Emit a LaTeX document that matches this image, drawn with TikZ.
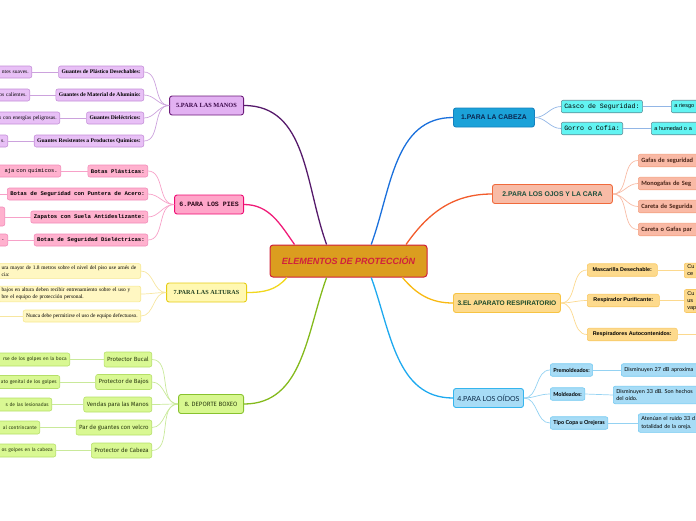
\documentclass[tikz,border=0pt]{standalone}
\usepackage{fontspec}
\setmainfont{Liberation Serif}
\setsansfont{Liberation Sans}
\setmonofont{Liberation Mono}
\newfontfamily\carlitofont{Carlito}
\newfontfamily\latofont{Lato}
\newfontfamily\firafont{Fira Sans}
\newcommand\fsz[2]{\fontsize{#1}{#2}\selectfont}
\definecolor{rootfill}{HTML}{DB9D1F}
\definecolor{rootline}{HTML}{CF1F3A}
\definecolor{roottext}{HTML}{D0213C}
\definecolor{cabline}{HTML}{1A70DC}
\definecolor{cabfill}{HTML}{1BA2D9}
\definecolor{cabdraw}{HTML}{1582BF}
\definecolor{cabtext}{HTML}{0B2650}
\definecolor{cabsubfill}{HTML}{62F4F2}
\definecolor{cabsubdraw}{HTML}{5C8E98}
\definecolor{cabtwig}{HTML}{92B6E6}
\definecolor{ojoline}{HTML}{F25C2C}
\definecolor{ojofill}{HTML}{F8BBA6}
\definecolor{ojodraw}{HTML}{F06A3C}
\definecolor{ojotext}{HTML}{1C4F3C}
\definecolor{ojosubfill}{HTML}{F9B9A5}
\definecolor{ojosubdraw}{HTML}{F4A283}
\definecolor{ojosubtext}{HTML}{4A2518}
\definecolor{ojotwig}{HTML}{F8BCA6}
\definecolor{respline}{HTML}{F8B912}
\definecolor{respfill}{HTML}{FDDA8D}
\definecolor{respdraw}{HTML}{F7C443}
\definecolor{resptext}{HTML}{1C4A2A}
\definecolor{respsubdraw}{HTML}{F8C862}
\definecolor{resptwig}{HTML}{FCD98E}
\definecolor{oidline}{HTML}{1EA9EF}
\definecolor{oidfill}{HTML}{A7DCF6}
\definecolor{oiddraw}{HTML}{35B5EE}
\definecolor{oidtext}{HTML}{0A2A48}
\definecolor{oidsubdraw}{HTML}{72C9F1}
\definecolor{oidtwig}{HTML}{94D2F2}
\definecolor{manline}{HTML}{561A6B}
\definecolor{manfill}{HTML}{E2B1F2}
\definecolor{mandraw}{HTML}{6C1C7A}
\definecolor{mantext}{HTML}{3A0848}
\definecolor{mansubfill}{HTML}{E8C0F6}
\definecolor{mansubdraw}{HTML}{C48ED8}
\definecolor{mantwig}{HTML}{CCA2DD}
\definecolor{pieline}{HTML}{EF1C78}
\definecolor{piefill}{HTML}{FFA5C9}
\definecolor{piedraw}{HTML}{EE0A72}
\definecolor{pietext}{HTML}{2A0818}
\definecolor{piesubfill}{HTML}{FFB1CE}
\definecolor{piesubdraw}{HTML}{F28AB8}
\definecolor{pietwig}{HTML}{F7A1C8}
\definecolor{altline}{HTML}{F1D71E}
\definecolor{altfill}{HTML}{FFF8B2}
\definecolor{altdraw}{HTML}{E6CC14}
\definecolor{alttext}{HTML}{204020}
\definecolor{altsubfill}{HTML}{FFF7C2}
\definecolor{altsubdraw}{HTML}{F6E78E}
\definecolor{alttwig}{HTML}{F7E6A0}
\definecolor{boxline}{HTML}{84BA1C}
\definecolor{boxfill}{HTML}{D7F78F}
\definecolor{boxdraw}{HTML}{88C22E}
\definecolor{boxtext}{HTML}{2A3A10}
\definecolor{boxsubfill}{HTML}{D9F893}
\definecolor{boxsubdraw}{HTML}{B5DF68}
\definecolor{boxtwig}{HTML}{C9E99A}
\begin{document}
\begin{tikzpicture}[x=1pt,y=1pt,
        root/.style={draw=rootline, fill=rootfill, line width=1pt, rounded corners=3pt,
          minimum width=157pt, minimum height=32pt, inner sep=0pt, text=roottext,
          font=\sffamily\bfseries\itshape\fsz{9}{10}},
        topic/.style={draw=#1, line width=0.9pt, rounded corners=2.5pt,
          minimum height=19pt, inner xsep=4pt, inner ysep=0pt},
        item/.style={draw=#1, line width=0.55pt, rounded corners=2pt,
          minimum height=12.5pt, inner xsep=3pt, inner ysep=0pt},
        cutl/.style={anchor=east, text width=#1, align=right},
        cutr/.style={anchor=west, text width=#1, align=left},
        link/.style={draw=#1, line width=1.3pt},
        twig/.style={draw=#1, line width=0.7pt}]
        \useasboundingbox (0,0) rectangle (696,-520);
        \clip (0,0) rectangle (696,-520);
        \node[root] (root) at (348.5,-261) {ELEMENTOS DE PROTECCIÓN};
        % 1 cabeza
        \node[topic=cabdraw, fill=cabfill, text=cabtext, anchor=west, minimum width=81pt,
          font=\sffamily\bfseries\fsz{6.8}{8}] (cabeza) at (453,-117.5) {1.PARA LA CABEZA};
        \node[item=cabsubdraw, fill=cabsubfill, anchor=west, font=\ttfamily\fsz{6.6}{8}] (casco) at (561,-106.5) {Casco de Seguridad:};
        \node[item=cabsubdraw, fill=cabsubfill, anchor=west, font=\ttfamily\fsz{6.6}{8}] (gorro) at (561,-128.5) {Gorro o Cofia:};
        \node[item=cabsubdraw, fill=cabsubfill, cutr=50pt, font=\sffamily\fsz{5.5}{7}] (cascoleaf) at (671,-106.5) {a riesgo};
        \node[item=cabsubdraw, fill=cabsubfill, cutr=70pt, font=\sffamily\fsz{5.5}{7}] (gorroleaf) at (651,-128.5) {a humedad o a};
        % 2 ojos
        \node[topic=ojodraw, fill=ojofill, text=ojotext, anchor=west, minimum width=120pt,
          font=\sffamily\bfseries\fsz{6.8}{8}] (ojos) at (492,-194) {2.PARA LOS OJOS Y LA CARA};
        \node[item=ojosubdraw, fill=ojosubfill, text=ojosubtext, cutr=70pt, font=\carlitofont\bfseries\fsz{6.4}{7}] (gafas) at (638,-160.5) {Gafas de seguridad};
        \node[item=ojosubdraw, fill=ojosubfill, text=ojosubtext, cutr=70pt, font=\carlitofont\bfseries\fsz{6.4}{7}] (monogafas) at (638,-183.5) {Monogafas de Seg};
        \node[item=ojosubdraw, fill=ojosubfill, text=ojosubtext, cutr=70pt, font=\carlitofont\bfseries\fsz{6.4}{7}] (careta) at (638,-206.5) {Careta de Segurida};
        \node[item=ojosubdraw, fill=ojosubfill, text=ojosubtext, cutr=70pt, font=\carlitofont\bfseries\fsz{6.4}{7}] (caretagafas) at (638,-229.5) {Careta o Gafas par};
        % 3 respiratorio
        \node[topic=respdraw, fill=respfill, text=resptext, anchor=west, minimum width=107pt,
          font=\sffamily\bfseries\fsz{6.6}{8}] (resp) at (453,-303) {3.EL APARATO RESPIRATORIO};
        \node[item=respsubdraw, fill=respfill, anchor=west, minimum width=70pt, font=\sffamily\bfseries\fsz{5.4}{7}] (mascarilla) at (587,-270) {Mascarilla Desechable:};
        \node[item=respsubdraw, fill=respfill, anchor=west, minimum width=72pt, font=\sffamily\bfseries\fsz{5.4}{7}] (purificante) at (587,-300.5) {Respirador Purificante:};
        \node[item=respsubdraw, fill=respfill, anchor=west, minimum width=90pt, font=\sffamily\bfseries\fsz{5.4}{7}] (autocont) at (587,-334.5) {Respiradores Autocontenidos:};
        \node[item=respsubdraw, fill=respfill, cutr=40pt, inner ysep=2pt, font=\sffamily\fsz{5.5}{7}] (mascleaf) at (684,-270.5) {Cu\\ce};
        \node[item=respsubdraw, fill=respfill, cutr=40pt, inner ysep=2pt, font=\sffamily\fsz{5.5}{7}] (purifleaf) at (684,-301) {Cu\\us\\vap};
        \coordinate (autoleaf) at (700,-334.5);
        % 4 oidos
        \node[topic=oiddraw, fill=oidfill, text=oidtext, anchor=west, minimum width=70pt,
          font=\latofont\fsz{7}{8}] (oidos) at (453,-398) {4.PARA LOS OÍDOS};
        \node[item=oidsubdraw, fill=oidfill, anchor=west, font=\latofont\bfseries\fsz{5.5}{7}] (premol) at (550,-370) {Premoldeados:};
        \node[item=oidsubdraw, fill=oidfill, anchor=west, font=\latofont\bfseries\fsz{5.5}{7}] (moldeados) at (550,-394) {Moldeados:};
        \node[item=oidsubdraw, fill=oidfill, anchor=west, font=\latofont\bfseries\fsz{5.5}{7}] (copa) at (550,-423) {Tipo Copa u Orejeras};
        \node[item=oidsubdraw, fill=oidfill, cutr=100pt, font=\latofont\fsz{5.5}{7}] (premolleaf) at (621,-370) {Disminuyen 27 dB aproxima};
        \node[item=oidsubdraw, fill=oidfill, cutr=100pt, inner ysep=3pt, font=\latofont\fsz{5.5}{7.5}] (moldleaf) at (613,-395) {Disminuyen 33 dB. Son hechos\\del oído.};
        \node[item=oidsubdraw, fill=oidfill, cutr=100pt, inner ysep=3pt, font=\latofont\fsz{5.5}{7.5}] (copaleaf) at (638,-423) {Atenúan el ruido 33 d\\totalidad de la oreja.};
        % 5 manos
        \node[topic=mandraw, fill=manfill, text=mantext, anchor=east, minimum width=74pt,
          font=\rmfamily\bfseries\fsz{6.3}{8}] (manos) at (244,-105.5) {5.PARA LAS MANOS};
        \node[item=mansubdraw, fill=mansubfill, anchor=east, minimum height=12pt, font=\rmfamily\bfseries\fsz{5.6}{7}] (plastico) at (144,-72) {Guantes de Plástico Desechables:};
        \node[item=mansubdraw, fill=mansubfill, anchor=east, minimum height=12pt, font=\rmfamily\bfseries\fsz{5.6}{7}] (aluminio) at (144,-95) {Guantes de Material de Aluminio:};
        \node[item=mansubdraw, fill=mansubfill, anchor=east, minimum height=12pt, font=\rmfamily\bfseries\fsz{5.6}{7}] (dielectricos) at (144,-118) {Guantes Dieléctricos:};
        \node[item=mansubdraw, fill=mansubfill, anchor=east, minimum height=12pt, font=\rmfamily\bfseries\fsz{5.6}{7}] (quimicos) at (144,-141) {Guantes Resistentes a Productos Químicos:};
        \node[item=mansubdraw, fill=mansubfill, cutl=70pt, minimum height=12pt, font=\rmfamily\fsz{5.5}{7}] (plasticoleaf) at (32,-72) {ntes suaves.};
        \node[item=mansubdraw, fill=mansubfill, cutl=70pt, minimum height=12pt, font=\rmfamily\fsz{5.5}{7}] (aluminioleaf) at (30,-95) {os calientes.};
        \node[item=mansubdraw, fill=mansubfill, cutl=80pt, minimum height=12pt, font=\rmfamily\fsz{5.5}{7}] (dielectleaf) at (60,-118) {s con energías peligrosas.};
        \node[item=mansubdraw, fill=mansubfill, cutl=40pt, minimum height=12pt, font=\rmfamily\fsz{5.5}{7}] (quimicosleaf) at (8,-141) {s.};
        % 6 pies
        \node[topic=piedraw, fill=piefill, text=pietext, anchor=east, minimum width=69pt,
          font=\ttfamily\bfseries\fsz{6.6}{8}] (pies) at (244,-204.5) {6.PARA LOS PIES};
        \node[item=piesubdraw, fill=piesubfill, anchor=east, minimum height=12pt, font=\ttfamily\bfseries\fsz{5.6}{7}] (botasplast) at (148,-171) {Botas Plásticas:};
        \node[item=piesubdraw, fill=piesubfill, anchor=east, minimum height=12pt, font=\ttfamily\bfseries\fsz{5.6}{7}] (puntera) at (148,-194) {Botas de Seguridad con Puntera de Acero:};
        \node[item=piesubdraw, fill=piesubfill, anchor=east, minimum height=12pt, font=\ttfamily\bfseries\fsz{5.6}{7}] (zapatos) at (148,-217) {Zapatos con Suela Antideslizante:};
        \node[item=piesubdraw, fill=piesubfill, anchor=east, minimum height=12pt, font=\ttfamily\bfseries\fsz{5.6}{7}] (botasdiel) at (148,-240) {Botas de Seguridad Dieléctricas:};
        \node[item=piesubdraw, fill=piesubfill, cutl=80pt, minimum height=12pt, font=\ttfamily\fsz{5.5}{7}] (botasplastleaf) at (61,-171) {aja con químicos.};
        \coordinate (punteraleaf) at (-5,-194);
        \node[item=piesubdraw, fill=piesubfill, cutl=30pt, minimum height=19pt, font=\ttfamily\fsz{5.5}{7}] (zapatosleaf) at (5,-216.5) {};
        \node[item=piesubdraw, fill=piesubfill, cutl=30pt, minimum height=12pt, font=\ttfamily\fsz{5.5}{7}] (botasdielleaf) at (8,-240) {.};
        % 7 alturas
        \node[topic=altdraw, fill=altfill, text=alttext, anchor=east, minimum width=80pt,
          font=\rmfamily\bfseries\fsz{6.2}{8}] (alturas) at (247,-292.5) {7.PARA LAS ALTURAS};
        \node[item=altsubdraw, fill=altsubfill, cutl=136pt, align=left, inner ysep=2pt, font=\rmfamily\fsz{5.4}{7}] (arnes) at (141,-271) {ura mayor de 1.8 metros sobre el nivel del piso use arnés de\\cia:};
        \node[item=altsubdraw, fill=altsubfill, cutl=136pt, align=left, inner ysep=2pt, font=\rmfamily\fsz{5.4}{7}] (entrena) at (141,-294) {bajos en altura deben recibir entrenamiento sobre el uso y\\bre el equipo de protección personal.};
        \node[item=altsubdraw, fill=altsubfill, anchor=east, minimum height=12pt, font=\rmfamily\fsz{5.4}{7}] (nunca) at (141,-316) {Nunca debe permitirse el uso de equipo defectuoso.};
        \coordinate (nuncaleaf) at (-5,-316);
        % 8 boxeo
        \node[topic=boxdraw, fill=boxfill, text=boxtext, anchor=east, minimum width=65pt,
          font=\firafont\fsz{6.2}{8}] (boxeo) at (244,-404) {8. DEPORTE BOXEO};
        \node[item=boxsubdraw, fill=boxsubfill, text=boxtext, anchor=east, minimum height=15pt, font=\firafont\fsz{6}{7}] (bucal) at (152,-359.5) {Protector Bucal};
        \node[item=boxsubdraw, fill=boxsubfill, text=boxtext, anchor=east, minimum height=15pt, font=\firafont\fsz{6}{7}] (bajos) at (152,-382) {Protector de Bajos};
        \node[item=boxsubdraw, fill=boxsubfill, text=boxtext, anchor=east, minimum height=15pt, font=\firafont\fsz{6}{7}] (vendas) at (152,-404.5) {Vendas para las Manos};
        \node[item=boxsubdraw, fill=boxsubfill, text=boxtext, anchor=east, minimum height=15pt, font=\firafont\fsz{6}{7}] (guantes) at (152,-427.5) {Par de guantes con velcro};
        \node[item=boxsubdraw, fill=boxsubfill, text=boxtext, anchor=east, minimum height=15pt, font=\firafont\fsz{6}{7}] (cabezabox) at (152,-450.5) {Protector de Cabeza};
        \node[item=boxsubdraw, fill=boxsubfill, text=boxtext, cutl=90pt, minimum height=13pt, font=\firafont\fsz{4.9}{6}] (bucalleaf) at (70,-359.5) {rse de los golpes en la boca};
        \node[item=boxsubdraw, fill=boxsubfill, text=boxtext, cutl=90pt, minimum height=13pt, font=\firafont\fsz{4.9}{6}] (bajosleaf) at (60,-382) {ato genital de los golpes};
        \node[item=boxsubdraw, fill=boxsubfill, text=boxtext, cutl=90pt, minimum height=13pt, font=\firafont\fsz{4.9}{6}] (vendasleaf) at (52,-404.5) {s de las lesionadas};
        \node[item=boxsubdraw, fill=boxsubfill, text=boxtext, cutl=90pt, minimum height=13pt, font=\firafont\fsz{4.9}{6}] (guantesleaf) at (40,-427.5) {al contrincante};
        \node[item=boxsubdraw, fill=boxsubfill, text=boxtext, cutl=90pt, minimum height=13pt, font=\firafont\fsz{4.9}{6}] (cabezaboxleaf) at (56,-450.5) {os golpes en la cabeza};
        % main links
        \draw[link=cabline] (root.36) to[out=70,in=180] (cabeza.west);
        \draw[link=ojoline] (root.16) to[out=55,in=180] (ojos.west);
        \draw[link=respline] (root.-17) to[out=-50,in=180] (resp.west);
        \draw[link=oidline] (root.-36) to[out=-70,in=180] (oidos.west);
        \draw[link=manline] (root.143) to[out=110,in=0] (manos.east);
        \draw[link=pieline] (root.163) to[out=125,in=0] (pies.east);
        \draw[link=altline] (root.195) to[out=230,in=0] (alturas.east);
        \draw[link=boxline] (root.217) to[out=250,in=0] (boxeo.east);
        % twigs
        \foreach \sub/\leaf in {casco/cascoleaf, gorro/gorroleaf} {
          \draw[twig=cabtwig] (cabeza.east) to[out=0,in=180] (\sub.west);
          \draw[twig=cabtwig] (\sub.east) -- (\leaf.west);
        }
        \foreach \sub in {gafas, monogafas, careta, caretagafas}
          \draw[twig=ojotwig] (ojos.east) to[out=0,in=180] (\sub.west);
        \foreach \sub/\leaf in {mascarilla/mascleaf, purificante/purifleaf, autocont/autoleaf} {
          \draw[twig=resptwig] (resp.east) to[out=0,in=180] (\sub.west);
          \draw[twig=resptwig] (\sub.east) -- (\leaf.west |- \sub.east);
        }
        \foreach \sub/\leaf in {premol/premolleaf, moldeados/moldleaf, copa/copaleaf} {
          \draw[twig=oidtwig] (oidos.east) to[out=0,in=180] (\sub.west);
          \draw[twig=oidtwig] (\sub.east) -- (\leaf.west);
        }
        \foreach \sub/\leaf in {plastico/plasticoleaf, aluminio/aluminioleaf, dielectricos/dielectleaf, quimicos/quimicosleaf} {
          \draw[twig=mantwig] (manos.west) to[out=180,in=0] (\sub.east);
          \draw[twig=mantwig] (\sub.west) -- (\leaf.east);
        }
        \foreach \sub/\leaf in {botasplast/botasplastleaf, puntera/punteraleaf, zapatos/zapatosleaf, botasdiel/botasdielleaf} {
          \draw[twig=pietwig] (pies.west) to[out=180,in=0] (\sub.east);
          \draw[twig=pietwig] (\sub.west) -- (\leaf.east |- \sub.west);
        }
        \foreach \sub in {arnes, entrena, nunca}
          \draw[twig=alttwig] (alturas.west) to[out=180,in=0] (\sub.east);
        \draw[twig=alttwig] (nunca.west) -- (nuncaleaf);
        \foreach \sub/\leaf in {bucal/bucalleaf, bajos/bajosleaf, vendas/vendasleaf, guantes/guantesleaf, cabezabox/cabezaboxleaf} {
          \draw[twig=boxtwig] (boxeo.west) to[out=180,in=0] (\sub.east);
          \draw[twig=boxtwig] (\sub.west) -- (\leaf.east);
        }
    \end{tikzpicture}
\end{document}
